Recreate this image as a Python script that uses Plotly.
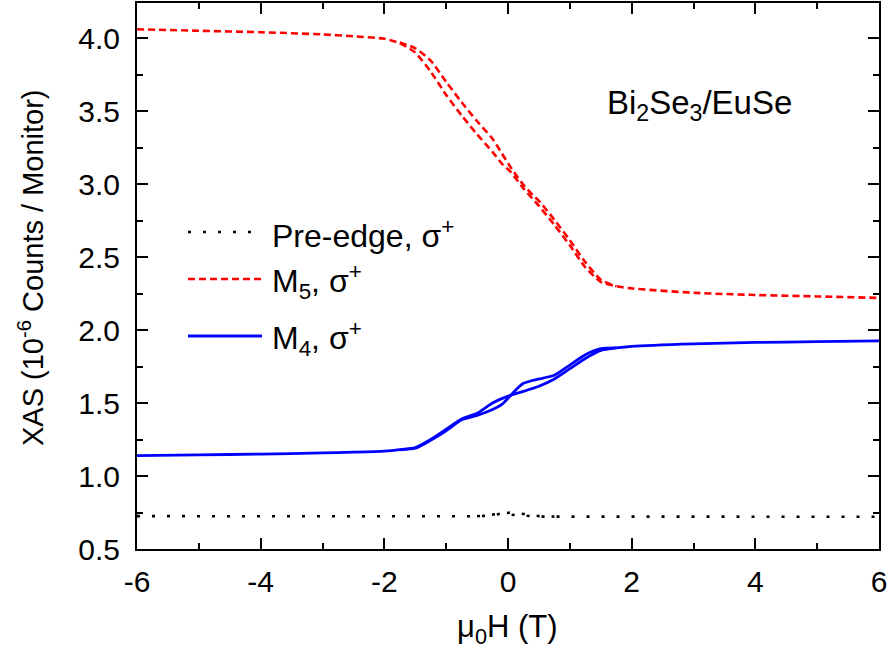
import plotly.graph_objects as go

# ---- data ----
# up sweep: full field range
field_up = [-6, -5, -4, -3, -2.5, -2, -1.75, -1.5, -1.25, -1.0, -0.75, -0.5, -0.25, -0.1,
            0.05, 0.25, 0.5, 0.75, 1.0, 1.25, 1.5, 1.75, 2, 3, 4, 5, 6]
m5_up = [4.06, 4.05, 4.04, 4.025, 4.012, 3.995, 3.965, 3.90, 3.77, 3.61, 3.47, 3.34, 3.22, 3.14,
         3.08, 2.97, 2.85, 2.72, 2.58, 2.43, 2.33, 2.30, 2.285, 2.255, 2.24, 2.23, 2.22]
m4_up = [1.14, 1.145, 1.15, 1.158, 1.163, 1.17, 1.18, 1.195, 1.25, 1.32, 1.39, 1.43, 1.50, 1.53,
         1.555, 1.58, 1.615, 1.665, 1.735, 1.805, 1.86, 1.877, 1.888, 1.905, 1.915, 1.92, 1.925]
pre_up = [0.725, 0.725, 0.725, 0.724, 0.724, 0.724, 0.724, 0.724, 0.723, 0.723, 0.723, 0.724, 0.73, 0.745,
          0.735, 0.73, 0.722, 0.722, 0.722, 0.722, 0.722, 0.722, 0.722, 0.722, 0.721, 0.721, 0.721]

# down sweep: only where it departs from the up sweep
field_down = [-1.75, -1.5, -1.25, -1.0, -0.75, -0.5, -0.25, -0.1, 0.05, 0.15, 0.25, 0.4, 0.5, 0.75, 1.0, 1.25, 1.5, 1.75]
m5_down = [3.97, 3.93, 3.845, 3.70, 3.56, 3.43, 3.31, 3.21, 3.11, 3.05, 2.995, 2.925, 2.885, 2.755, 2.615, 2.465, 2.345, 2.30]
m4_down = [1.18, 1.19, 1.245, 1.31, 1.385, 1.415, 1.455, 1.49, 1.555, 1.60, 1.635, 1.655, 1.665, 1.69, 1.76, 1.83, 1.872, 1.877]
field_pre_down = [-0.5, -0.25, -0.1, 0.05, 0.25, 0.5, 0.75]
pre_down = [0.724, 0.735, 0.74, 0.75, 0.74, 0.725, 0.722]

x_tick_vals = [-6, -4, -2, 0, 2, 4, 6]
x_tick_text = ["-6", "-4", "-2", "0", "2", "4", "6"]

legend_labels = ["Pre-edge, σ<sup>+</sup>", "M<sub>5</sub>, σ<sup>+</sup>", "M<sub>4</sub>, σ<sup>+</sup>"]
sample_label = "Bi<sub>2</sub>Se<sub>3</sub>/EuSe"

FONT = "Liberation Sans, Arial, sans-serif"
RED = "#ff0000"
BLUE = "#0000ff"
BLACK = "#000000"

styles = [
    dict(color=BLACK, width=2.6, dash="3px,12px"),
    dict(color=RED, width=2.6, dash="7px,4px"),
    dict(color=BLUE, width=2.8, dash="solid"),
]

def line_of(st, shp):
    d = dict(**st, shape=shp)
    if shp == "spline":
        d["smoothing"] = 0.6
    return d

fig = go.Figure()
series = [(field_up, pre_up, field_pre_down, pre_down, styles[0], "linear"),
          (field_up, m5_up, field_down, m5_down, styles[1], "spline"),
          (field_up, m4_up, field_down, m4_down, styles[2], "spline")]
for xu, up, xd, down, st, shp in series:
    fig.add_trace(go.Scatter(x=xu, y=up, mode="lines", showlegend=False, hoverinfo="skip",
                             line=line_of(st, shp)))
    fig.add_trace(go.Scatter(x=xd, y=down, mode="lines", showlegend=False, hoverinfo="skip",
                             line=line_of(st, shp)))

# geometry (pixels of the 890x654 page)
W, H = 890, 654
plot_l, plot_r, plot_t, plot_b = 137, 879, 3, 549
def px(x):
    return (x - plot_l) / (plot_r - plot_l)
def py(y):
    return (plot_b - y) / (plot_b - plot_t)

# manual legend
x0, x1 = 188, 262
rows = [232, 279, 336]
for yy, st, lab in zip(rows, styles, legend_labels):
    fig.add_shape(type="line", xref="paper", yref="paper",
                  x0=px(x0), x1=px(x1), y0=py(yy), y1=py(yy),
                  line=dict(color=st["color"], width=st["width"], dash=st["dash"]))
    fig.add_annotation(xref="paper", yref="paper", x=px(270), y=py(yy + 2),
                       text=lab, showarrow=False, xanchor="left", yanchor="middle",
                       font=dict(family=FONT, size=32, color=BLACK))

fig.add_annotation(xref="paper", yref="paper", x=px(605), y=py(105),
                   text=sample_label, showarrow=False, xanchor="left", yanchor="middle",
                   font=dict(family=FONT, size=33, color=BLACK))

# axis titles as annotations for exact placement
fig.add_annotation(xref="paper", yref="paper", x=px(507), y=py(629),
                   text="μ<sub>0</sub>H (T)", showarrow=False, xanchor="center", yanchor="middle",
                   font=dict(family=FONT, size=31, color=BLACK))
fig.add_annotation(xref="paper", yref="paper", x=px(31), y=py(268),
                   text="XAS (10<sup>-6</sup> Counts / Monitor)", showarrow=False, textangle=-90,
                   xanchor="center", yanchor="middle",
                   font=dict(family=FONT, size=29, color=BLACK))

axis_common = dict(showline=True, linewidth=2, linecolor=BLACK, mirror="ticks",
                   ticks="inside", ticklen=11, tickwidth=2, tickcolor=BLACK,
                   showgrid=False, zeroline=False, automargin=False,
                   tickfont=dict(family=FONT, size=30, color=BLACK))

fig.update_layout(
    width=W, height=H,
    margin=dict(l=plot_l, r=W - plot_r, t=plot_t, b=H - plot_b),
    plot_bgcolor="white", paper_bgcolor="white",
    showlegend=False,
    xaxis=dict(range=[-6, 6], tickvals=x_tick_vals, ticktext=x_tick_text,
               minor=dict(dtick=1, ticks="inside", ticklen=6, tickwidth=2, tickcolor=BLACK),
               ticklabelstandoff=5,
               **axis_common),
    yaxis=dict(range=[0.5, 4.24], dtick=0.5, tick0=0.5, tickformat=".1f",
               minor=dict(dtick=0.25, ticks="inside", ticklen=6, tickwidth=2, tickcolor=BLACK),
               ticklabelstandoff=9,
               **axis_common),
)

fig.write_html("out.html", config={"displayModeBar": False},
               post_script="document.body.style.margin='0';document.body.style.overflow='hidden';")
